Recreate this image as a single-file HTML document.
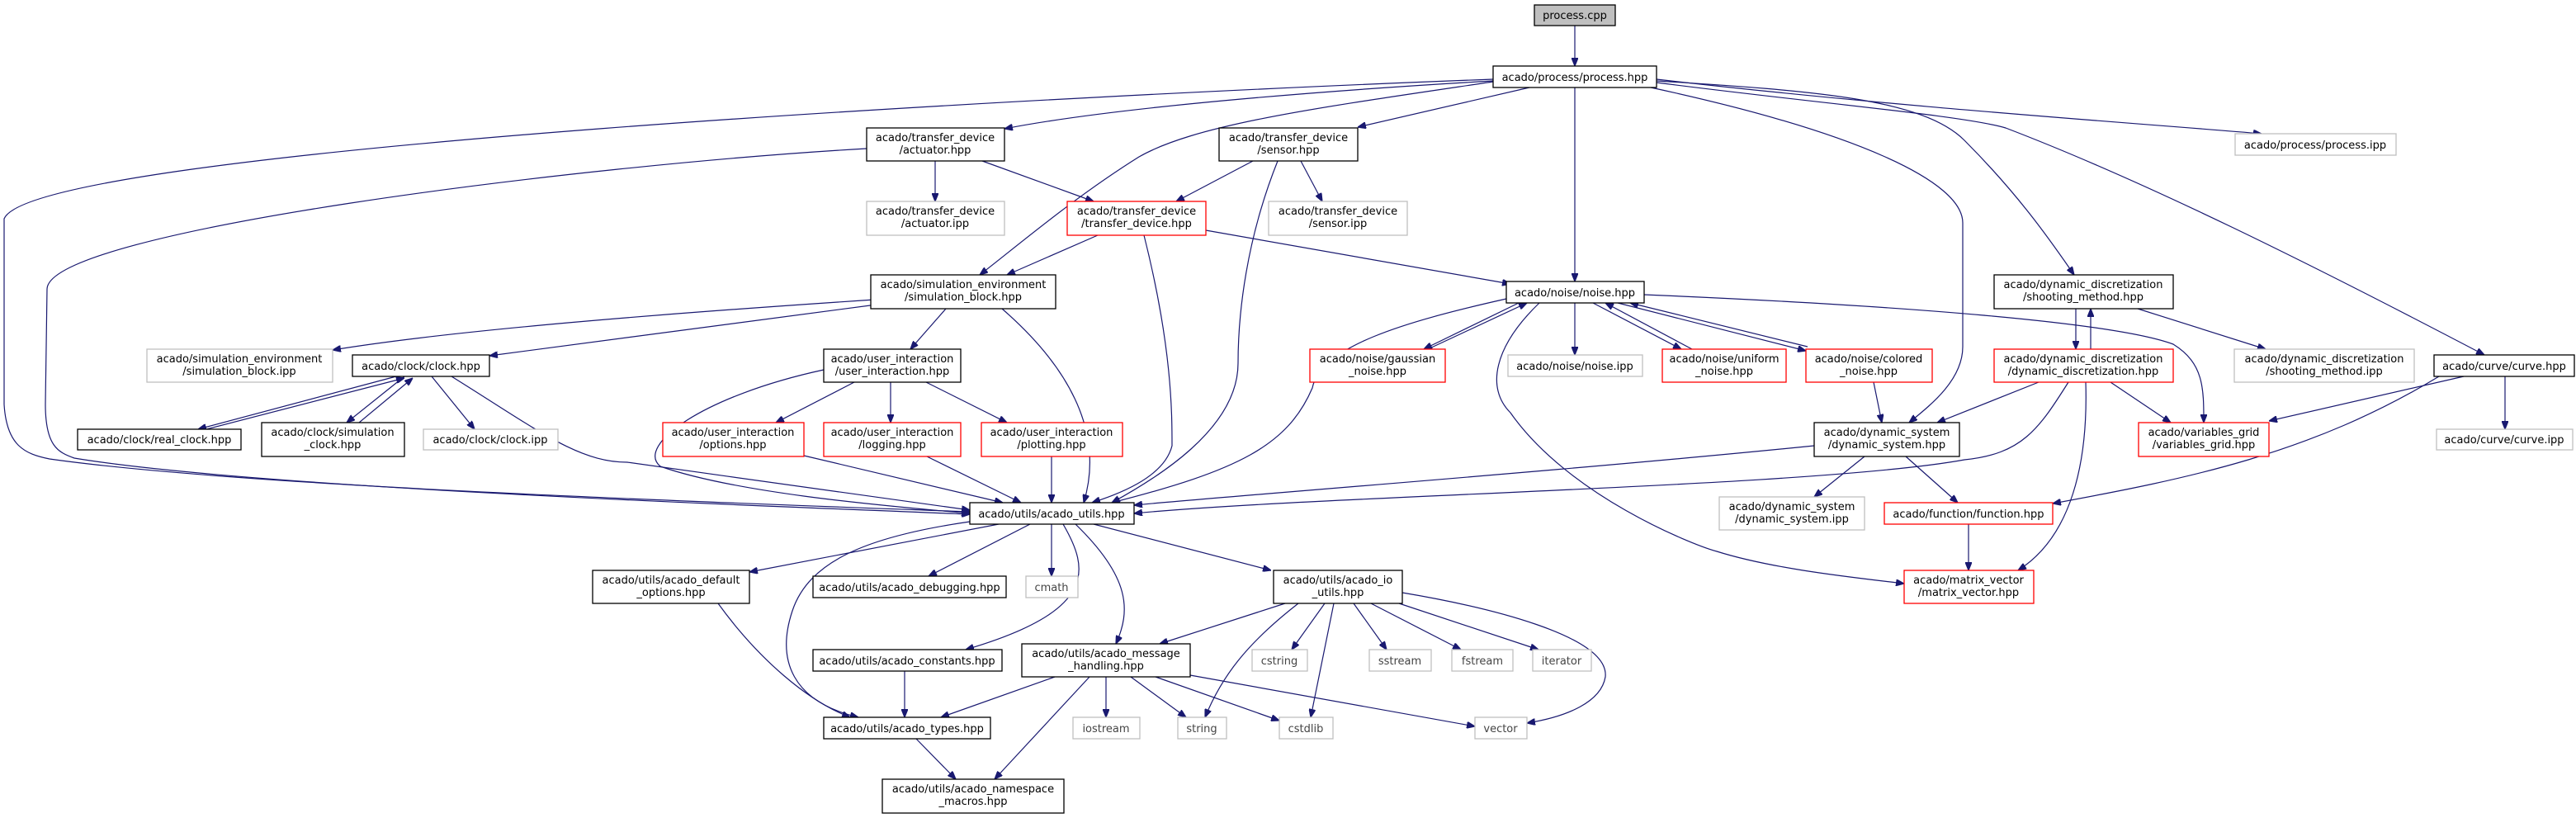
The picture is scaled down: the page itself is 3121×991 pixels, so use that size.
<!DOCTYPE html>
<html><head><meta charset="utf-8"><style>
html,body{margin:0;padding:0;background:#fff;}
svg{display:block;}
text{font-family:"DejaVu Sans","Liberation Sans",sans-serif;font-size:13px;fill:#000;text-anchor:middle;}
.b{fill:#fff;stroke:#000;stroke-width:1.3;}
.g{fill:#fff;stroke:#bfbfbf;stroke-width:1.3;}
.r{fill:#fff;stroke:#ff0000;stroke-width:1.3;}
path,line{fill:none;stroke:#191970;stroke-width:1.2;}
</style></head><body>
<svg width="3121" height="991" viewBox="0 0 3121 991" xmlns="http://www.w3.org/2000/svg">
<defs><marker id="a" viewBox="0 0 10 8" refX="10" refY="4" markerWidth="10" markerHeight="8" markerUnits="userSpaceOnUse" orient="auto"><path d="M0,0 L10,4 L0,8 z" style="fill:#191970;stroke:#191970"/></marker></defs>
<g marker-end="url(#a)">
<path d="M1908,31 L1908,80"/>
<path d="M1809,96 C1300,115 40,180 5,265 L5,490 C8,540 30,550 60,556 C300,590 900,610 1175,620"/>
<path d="M1050,180 C700,200 60,280 57,350 L55,490 C55,540 70,548 90,555 C300,590 900,612 1175,623"/>
<path d="M1809,98 C1600,110 1350,130 1217,156"/>
<path d="M1809,99 C1600,130 1450,150 1380,190 C1300,240 1230,300 1187,333"/>
<path d="M1853,106 L1645,154"/>
<path d="M1908,106 L1908,341"/>
<path d="M2007,96 C2300,130 2600,150 2740,162"/>
<path d="M2007,98 C2200,110 2330,120 2380,170 C2450,240 2490,300 2513,333"/>
<path d="M2007,100 C2200,125 2380,140 2430,155 C2600,220 2800,320 3010,430"/>
<path d="M2000,106 C2250,160 2378,220 2378,270 L2378,420 C2378,460 2340,490 2313,512"/>
<path d="M1133,195 L1133,244"/>
<path d="M1190,195 L1325,244"/>
<path d="M1518,195 L1425,244"/>
<path d="M1576,195 L1602,244"/>
<path d="M1548,195 C1510,290 1500,380 1500,440 C1500,520 1400,580 1347,609"/>
<path d="M1330,285 L1220,333"/>
<path d="M1461,279 L1830,344"/>
<path d="M1386,285 C1420,420 1420,500 1420,540 C1410,580 1350,600 1323,609"/>
<path d="M1075,362 C800,380 550,400 403,424"/>
<path d="M1062,369 L593,431"/>
<path d="M1146,374 L1103,423"/>
<path d="M1214,374 C1290,440 1340,520 1313,609"/>
<path d="M480,456 L240,520"/>
<path d="M490,456 L420,512"/>
<path d="M523,456 L575,520"/>
<path d="M547,456 C650,520 700,560 760,560 C900,580 1050,600 1175,618"/>
<path d="M1035,463 L940,512"/>
<path d="M1079,463 L1079,512"/>
<path d="M1122,463 L1220,512"/>
<path d="M998,448 C850,480 770,540 800,565 C900,600 1100,615 1175,622"/>
<path d="M974,552 L1215,609"/>
<path d="M1123,553 L1237,609"/>
<path d="M1274,553 L1274,609"/>
<path d="M1840,367 L1725,423"/>
<path d="M1908,367 L1908,430"/>
<path d="M1930,367 L2037,423"/>
<path d="M1960,367 L2188,425"/>
<path d="M1825,362 C1700,390 1600,420 1590,470 C1560,540 1500,570 1347,609"/>
<path d="M1992,357 C2300,370 2560,390 2633,417 C2670,440 2670,470 2670,512"/>
<path d="M1865,367 C1810,420 1800,470 1830,500 C1900,600 2050,660 2080,668 C2150,690 2250,700 2307,707"/>
<path d="M2270,463 L2280,512"/>
<path d="M2515,374 L2515,423"/>
<path d="M2533,423 L2533,374"/>
<path d="M2590,374 L2745,423"/>
<path d="M2470,463 L2347,512"/>
<path d="M2506,463 C2470,520 2450,550 2380,557 C2200,590 1600,600 1374,622"/>
<path d="M2198,540 C1900,570 1500,600 1374,612"/>
<path d="M2527,463 C2530,560 2510,650 2445,691"/>
<path d="M2557,463 L2630,512"/>
<path d="M2985,456 L2749,510"/>
<path d="M2955,456 C2800,550 2650,580 2487,610"/>
<path d="M3035,456 L3035,520"/>
<path d="M2259,553 L2198,602"/>
<path d="M2309,553 L2372,609"/>
<path d="M2385,635 L2385,691"/>
<path d="M1210,635 L908,693"/>
<path d="M1248,635 L1125,698"/>
<path d="M1274,635 L1274,698"/>
<path d="M1288,635 C1320,690 1330,740 1170,787"/>
<path d="M1303,635 C1370,700 1370,740 1352,780"/>
<path d="M1325,635 L1540,691"/>
<path d="M1175,632 C1050,650 980,680 960,740 C940,800 960,850 1040,869"/>
<path d="M870,731 C920,800 980,850 1030,869"/>
<path d="M1096,813 L1096,869"/>
<path d="M1278,820 L1140,869"/>
<path d="M1320,820 L1205,944"/>
<path d="M1340,820 L1340,869"/>
<path d="M1370,820 L1437,869"/>
<path d="M1400,820 L1550,873"/>
<path d="M1442,818 L1787,880"/>
<path d="M1110,895 L1158,944"/>
<path d="M1557,731 L1405,780"/>
<path d="M1573,731 C1510,780 1480,820 1460,869"/>
<path d="M1605,731 L1565,787"/>
<path d="M1616,731 L1588,869"/>
<path d="M1640,731 L1680,787"/>
<path d="M1661,731 L1770,787"/>
<path d="M1695,731 L1864,787"/>
<path d="M1699,718 C1800,735 1950,770 1945,820 C1940,850 1900,868 1850,876"/>
</g>
<g marker-end="url(#a)">
<path d="M250,520 L490,458"/>
<path d="M435,512 L500,458"/>
<path d="M1730,423 L1850,367"/>
<path d="M2050,423 L1945,367"/>
<path d="M2190,420 L1975,367"/>
</g>
<!-- nodes -->
<rect x="1859" y="6" width="98" height="25" style="fill:#bfbfbf;stroke:#000;stroke-width:1.3"/><text x="1908" y="23">process.cpp</text>
<rect class="b" x="1809" y="80" width="198" height="26"/><text x="1908" y="98">acado/process/process.hpp</text>
<rect class="b" x="1050" y="155" width="167" height="40"/><text x="1133" y="171">acado/transfer_device</text><text x="1133" y="186">/actuator.hpp</text>
<rect class="b" x="1477" y="155" width="168" height="40"/><text x="1561" y="171">acado/transfer_device</text><text x="1561" y="186">/sensor.hpp</text>
<rect class="g" x="2708" y="162" width="195" height="26"/><text x="2805" y="180">acado/process/process.ipp</text>
<rect class="g" x="1050" y="244" width="167" height="41"/><text x="1133" y="260">acado/transfer_device</text><text x="1133" y="275">/actuator.ipp</text>
<rect class="r" x="1293" y="244" width="168" height="41"/><text x="1377" y="260">acado/transfer_device</text><text x="1377" y="275">/transfer_device.hpp</text>
<rect class="g" x="1537" y="244" width="168" height="41"/><text x="1621" y="260">acado/transfer_device</text><text x="1621" y="275">/sensor.ipp</text>
<rect class="b" x="1055" y="333" width="224" height="41"/><text x="1167" y="349">acado/simulation_environment</text><text x="1167" y="364">/simulation_block.hpp</text>
<rect class="b" x="1825" y="341" width="167" height="26"/><text x="1908" y="359">acado/noise/noise.hpp</text>
<rect class="b" x="2416" y="333" width="217" height="41"/><text x="2524" y="349">acado/dynamic_discretization</text><text x="2524" y="364">/shooting_method.hpp</text>
<rect class="g" x="178" y="423" width="225" height="40"/><text x="290" y="439">acado/simulation_environment</text><text x="290" y="454">/simulation_block.ipp</text>
<rect class="b" x="427" y="430" width="166" height="26"/><text x="510" y="448">acado/clock/clock.hpp</text>
<rect class="b" x="998" y="423" width="166" height="40"/><text x="1081" y="439">acado/user_interaction</text><text x="1081" y="454">/user_interaction.hpp</text>
<rect class="r" x="1587" y="423" width="164" height="40"/><text x="1669" y="439">acado/noise/gaussian</text><text x="1669" y="454">_noise.hpp</text>
<rect class="g" x="1827" y="430" width="163" height="26"/><text x="1908" y="448">acado/noise/noise.ipp</text>
<rect class="r" x="2014" y="423" width="150" height="40"/><text x="2089" y="439">acado/noise/uniform</text><text x="2089" y="454">_noise.hpp</text>
<rect class="r" x="2188" y="423" width="153" height="40"/><text x="2264" y="439">acado/noise/colored</text><text x="2264" y="454">_noise.hpp</text>
<rect class="r" x="2416" y="423" width="217" height="40"/><text x="2524" y="439">acado/dynamic_discretization</text><text x="2524" y="454">/dynamic_discretization.hpp</text>
<rect class="g" x="2707" y="423" width="218" height="40"/><text x="2816" y="439">acado/dynamic_discretization</text><text x="2816" y="454">/shooting_method.ipp</text>
<rect class="b" x="2949" y="430" width="170" height="26"/><text x="3034" y="448">acado/curve/curve.hpp</text>
<rect class="b" x="94" y="520" width="198" height="25"/><text x="193" y="537">acado/clock/real_clock.hpp</text>
<rect class="b" x="317" y="512" width="173" height="41"/><text x="403" y="528">acado/clock/simulation</text><text x="403" y="543">_clock.hpp</text>
<rect class="g" x="513" y="520" width="163" height="25"/><text x="594" y="537">acado/clock/clock.ipp</text>
<rect class="r" x="803" y="512" width="171" height="41"/><text x="888" y="528">acado/user_interaction</text><text x="888" y="543">/options.hpp</text>
<rect class="r" x="998" y="512" width="166" height="41"/><text x="1081" y="528">acado/user_interaction</text><text x="1081" y="543">/logging.hpp</text>
<rect class="r" x="1189" y="512" width="171" height="41"/><text x="1274" y="528">acado/user_interaction</text><text x="1274" y="543">/plotting.hpp</text>
<rect class="b" x="2198" y="512" width="176" height="41"/><text x="2286" y="528">acado/dynamic_system</text><text x="2286" y="543">/dynamic_system.hpp</text>
<rect class="r" x="2591" y="512" width="158" height="41"/><text x="2670" y="528">acado/variables_grid</text><text x="2670" y="543">/variables_grid.hpp</text>
<rect class="g" x="2952" y="520" width="165" height="25"/><text x="3034" y="537">acado/curve/curve.ipp</text>
<rect class="g" x="2083" y="602" width="176" height="40"/><text x="2171" y="618">acado/dynamic_system</text><text x="2171" y="633">/dynamic_system.ipp</text>
<rect class="r" x="2283" y="609" width="204" height="26"/><text x="2385" y="627">acado/function/function.hpp</text>
<rect class="b" x="1175" y="609" width="199" height="26"/><text x="1274" y="627">acado/utils/acado_utils.hpp</text>
<rect class="b" x="718" y="691" width="190" height="40"/><text x="813" y="707">acado/utils/acado_default</text><text x="813" y="722">_options.hpp</text>
<rect class="b" x="985" y="698" width="234" height="26"/><text x="1102" y="716">acado/utils/acado_debugging.hpp</text>
<rect class="g" x="1243" y="698" width="63" height="26"/><text x="1274" y="716" style="fill:#444">cmath</text>
<rect class="b" x="1543" y="691" width="156" height="40"/><text x="1621" y="707">acado/utils/acado_io</text><text x="1621" y="722">_utils.hpp</text>
<rect class="r" x="2307" y="691" width="157" height="40"/><text x="2385" y="707">acado/matrix_vector</text><text x="2385" y="722">/matrix_vector.hpp</text>
<rect class="b" x="985" y="787" width="229" height="26"/><text x="1099" y="805">acado/utils/acado_constants.hpp</text>
<rect class="b" x="1238" y="780" width="204" height="40"/><text x="1340" y="796">acado/utils/acado_message</text><text x="1340" y="811">_handling.hpp</text>
<rect class="g" x="1517" y="787" width="67" height="26"/><text x="1550" y="805" style="fill:#444">cstring</text>
<rect class="g" x="1659" y="787" width="75" height="26"/><text x="1696" y="805" style="fill:#444">sstream</text>
<rect class="g" x="1759" y="787" width="74" height="26"/><text x="1796" y="805" style="fill:#444">fstream</text>
<rect class="g" x="1857" y="787" width="71" height="26"/><text x="1892" y="805" style="fill:#444">iterator</text>
<rect class="b" x="998" y="869" width="202" height="26"/><text x="1099" y="887">acado/utils/acado_types.hpp</text>
<rect class="g" x="1300" y="869" width="81" height="26"/><text x="1340" y="887" style="fill:#444">iostream</text>
<rect class="g" x="1427" y="869" width="59" height="26"/><text x="1456" y="887" style="fill:#444">string</text>
<rect class="g" x="1550" y="869" width="65" height="26"/><text x="1582" y="887" style="fill:#444">cstdlib</text>
<rect class="g" x="1787" y="869" width="63" height="26"/><text x="1818" y="887" style="fill:#444">vector</text>
<rect class="b" x="1069" y="944" width="220" height="41"/><text x="1179" y="960">acado/utils/acado_namespace</text><text x="1179" y="975">_macros.hpp</text>
</svg>
</body></html>
